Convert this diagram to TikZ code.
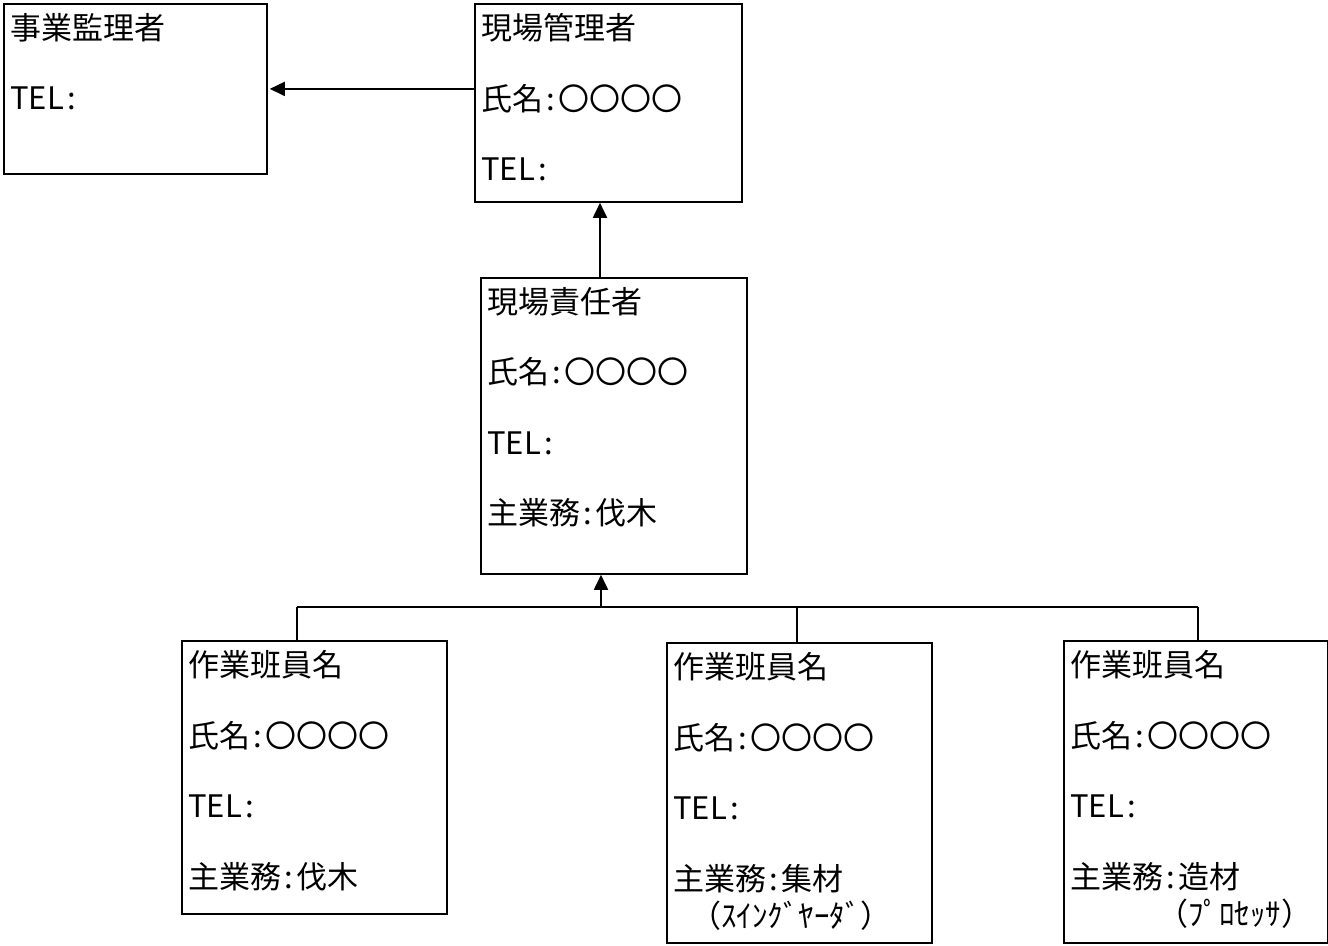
\documentclass[tikz,border=0pt]{standalone}
\usepackage{fontspec}
\setmainfont{Noto Sans CJK JP}
\usetikzlibrary{arrows.meta}
\newcommand{\cln}{\kern1.5pt:\kern1.5pt}

\begin{document}
\begin{tikzpicture}[x=0.5pt,y=-0.5pt,
    orgbox/.style={draw, line width=0.9pt, anchor=north west, inner sep=0pt},
    orgtxt/.style={anchor=north west, align=left, inner sep=0pt,
      font=\fontsize{15.5}{35.25}\selectfont},
    arr/.style={-{Triangle[length=7.5pt,width=7pt]}, line width=0.9pt}]
  \useasboundingbox (0,0) rectangle (1328,946);

  % upper boxes
  \node[orgbox, minimum width=131.5pt, minimum height=85pt] (jigyo) at (3,3) {};
  \node[orgtxt] (jigyo-t) at ([shift={(3.5pt,-5pt)}]jigyo.north west) {事業監理者\\TEL\cln{}};
  \node[orgbox, minimum width=133.5pt, minimum height=99pt] (kanri) at (474,3) {};
  \node[orgtxt] (kanri-t) at ([shift={(3.5pt,-5pt)}]kanri.north west) {現場管理者\\氏名\cln{}〇〇〇〇\\TEL\cln{}};
  \node[orgbox, minimum width=133pt, minimum height=148pt] (sekinin) at (480,277) {};
  \node[orgtxt] (sekinin-t) at ([shift={(3.5pt,-5pt)}]sekinin.north west) {現場責任者\\氏名\cln{}〇〇〇〇\\TEL\cln{}\\主業務\cln{}伐木};

  % work crew
  \node[orgbox, minimum width=132.5pt, minimum height=136.5pt] (han1) at (181,640) {};
  \node[orgtxt] (han1-t) at ([shift={(3.5pt,-5pt)}]han1.north west) {作業班員名\\氏名\cln{}〇〇〇〇\\TEL\cln{}\\主業務\cln{}伐木};
  \node[orgbox, minimum width=132.5pt, minimum height=150pt] (han2) at (666,642) {};
  \node[orgtxt] (han2-t) at ([shift={(3.5pt,-5pt)}]han2.north west) {作業班員名\\氏名\cln{}〇〇〇〇\\TEL\cln{}\\主業務\cln{}集材\\[-16.5pt]\hspace{8.5pt}（ｽｲﾝｸﾞﾔｰﾀﾞ）};
  \node[orgbox, minimum width=132pt, minimum height=151pt] (han3) at (1063,640) {};
  \node[orgtxt] (han3-t) at ([shift={(3.5pt,-5pt)}]han3.north west) {作業班員名\\氏名\cln{}〇〇〇〇\\TEL\cln{}\\主業務\cln{}造材\\[-16.5pt]\hspace{43.5pt}（ﾌﾟﾛｾｯｻ）};

  % connectors
  \draw[arr] (kanri.west |- jigyo.east) -- ([xshift=1pt]jigyo.east);
  \coordinate (up) at (600,277);
  \draw[arr] (up) -- (up |- kanri.south);
  \coordinate (b1) at (297,607);
  \coordinate (b2) at (797,607);
  \coordinate (b3) at (1198,607);
  \coordinate (bus) at (601,607);
  \draw[line width=0.9pt] (b1) -- (b3);
  \draw[line width=0.7pt] (b1) -- (b1 |- han1.north);
  \draw[line width=0.7pt] (b2) -- (b2 |- han2.north);
  \draw[line width=0.7pt] (b3) -- (b3 |- han3.north);
  \draw[arr] (bus) -- (bus |- sekinin.south);
\end{tikzpicture}
\end{document}
